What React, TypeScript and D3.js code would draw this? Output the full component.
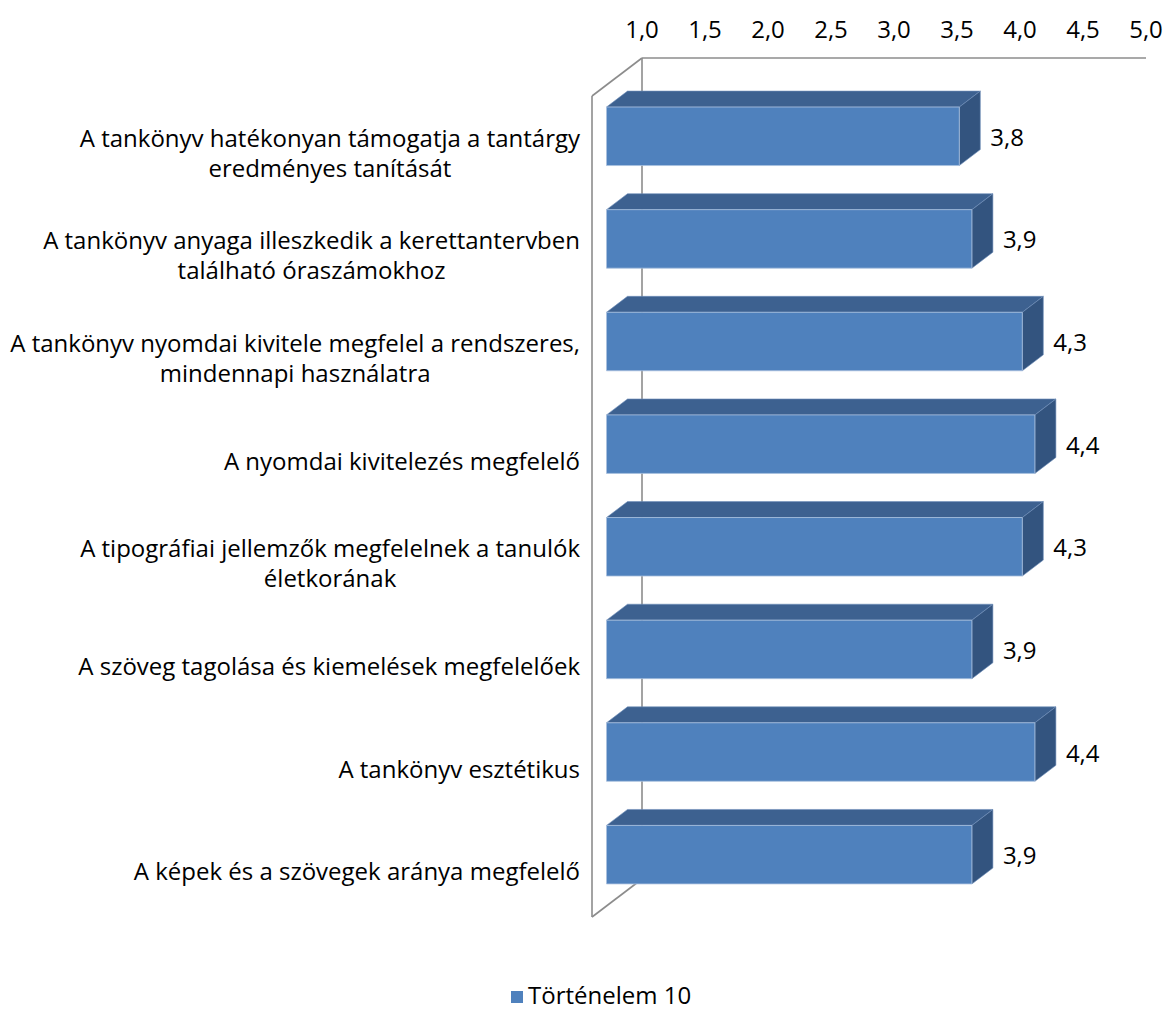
import React from "react";
import * as d3 from "d3";

const categoryLines: string[][] = [
  ["A tankönyv hatékonyan támogatja a tantárgy", "eredményes tanítását"],
  ["A tankönyv anyaga illeszkedik a kerettantervben", "található óraszámokhoz"],
  ["A tankönyv nyomdai kivitele megfelel a rendszeres,", "mindennapi használatra"],
  ["A nyomdai kivitelezés megfelelő"],
  ["A tipográfiai jellemzők megfelelnek a tanulók", "életkorának"],
  ["A szöveg tagolása és kiemelések megfelelőek"],
  ["A tankönyv esztétikus"],
  ["A képek és a szövegek aránya megfelelő"],
];
const values: number[] = [3.8, 3.9, 4.3, 4.4, 4.3, 3.9, 4.4, 3.9];
const ticks: number[] = [1.0, 1.5, 2.0, 2.5, 3.0, 3.5, 4.0, 4.5, 5.0];
const seriesName = "Történelem 10";

const W = 1166;
const H = 1012;
const FAMILY = "Open Sans";
const FONT = "'Open Sans', 'Noto Sans', sans-serif";
const FS = 24;

const fmt = (v: number) => v.toFixed(1).replace(".", ",");

function measure(text: string, size: number): number {
  const c = document.createElement("canvas");
  const ctx = c.getContext("2d");
  if (!ctx) return text.length * size * 0.5;
  ctx.font = `${size}px '${FAMILY}'`;
  return ctx.measureText(text).width;
}

export default function App() {
  const backLeft = 642;
  const backRight = 1146;
  const backTop = 58;
  const backBottom = 879;
  const depthDx = 50;
  const depthDy = 38;
  const d0 = 0.29;
  const d1 = 0.71;

  const x = d3.scaleLinear().domain([1, 5]).range([backLeft, backRight]);
  const ids = categoryLines.map((_, i) => String(i));
  const y = d3
    .scaleBand<string>()
    .domain(ids)
    .range([backTop, backBottom])
    .paddingInner(0.43)
    .paddingOuter(0.215);

  const P = (v: number, yy: number, d: number): [number, number] => [
    x(v) - depthDx * (1 - d),
    yy + depthDy * (1 - d),
  ];
  const pts = (arr: [number, number][]) => arr.map((p) => p.join(",")).join(" ");

  const front = "#4F81BD";
  const top = "#3D6190";
  const side = "#33547F";
  const wall = "#8c8c8c";

  const frontBottom = backBottom + depthDy;
  const frontLeft = backLeft - depthDx;

  return (
    <div style={{ position: "absolute", left: 0, top: 0 }}>
      <svg width={W} height={H} style={{ display: "block", background: "#fff" }} fontFamily={FONT}>
        <g stroke={wall} strokeWidth={1.6} fill="none">
          <line x1={backLeft} y1={backTop} x2={backRight} y2={backTop} />
          <line x1={backLeft} y1={backTop} x2={backLeft} y2={backBottom} />
          <line x1={frontLeft} y1={backTop + depthDy} x2={frontLeft} y2={frontBottom} />
          <line x1={frontLeft} y1={backTop + depthDy} x2={backLeft} y2={backTop} />
          <line x1={frontLeft} y1={frontBottom} x2={backLeft} y2={backBottom} />
        </g>

        <g fontSize={FS} fill="#000" textAnchor="middle">
          {ticks.map((t) => (
            <text key={t} x={x(t)} y={28} dominantBaseline="central">
              {fmt(t)}
            </text>
          ))}
        </g>

        {values.map((v, i) => {
          const y0 = y(String(i)) as number;
          const y1 = y0 + y.bandwidth();
          const fTL = P(1, y0, d0);
          const fTR = P(v, y0, d0);
          const fBR = P(v, y1, d0);
          const fBL = P(1, y1, d0);
          const bTL = P(1, y0, d1);
          const bTR = P(v, y0, d1);
          const bBR = P(v, y1, d1);
          return (
            <g key={i}>
              <polygon points={pts([fTL, fTR, bTR, bTL])} fill={top} stroke="#6f8fbb" strokeWidth={0.6} />
              <polygon points={pts([fTR, bTR, bBR, fBR])} fill={side} stroke="#6f8fbb" strokeWidth={0.6} />
              <polygon points={pts([fTL, fTR, fBR, fBL])} fill={front} stroke="#a9c0de" strokeWidth={0.8} />
              <text
                x={bTR[0] + 10}
                y={(fTR[1] + fBR[1]) / 2}
                fontSize={FS}
                dominantBaseline="central"
                fill="#000"
              >
                {fmt(v)}
              </text>
            </g>
          );
        })}

        <g fontSize={FS} fill="#000" textAnchor="middle">
          {categoryLines.map((lines, i) => {
            const c = (y(String(i)) as number) + y.bandwidth() / 2 + depthDy + 5;
            const maxW = Math.max(...lines.map((l) => measure(l, FS)));
            const cx = 580 - maxW / 2;
            const lh = 30;
            return (
              <g key={i}>
                {lines.map((l, j) => (
                  <text
                    key={j}
                    x={cx}
                    y={c + (j - (lines.length - 1) / 2) * lh}
                    dominantBaseline="central"
                  >
                    {l}
                  </text>
                ))}
              </g>
            );
          })}
        </g>

        <g>
          <rect x={511} y={991} width={12} height={12} fill={front} />
          <text x={528} y={1004} fontSize={FS} fill="#000">
            {seriesName}
          </text>
        </g>
      </svg>
    </div>
  );
}
